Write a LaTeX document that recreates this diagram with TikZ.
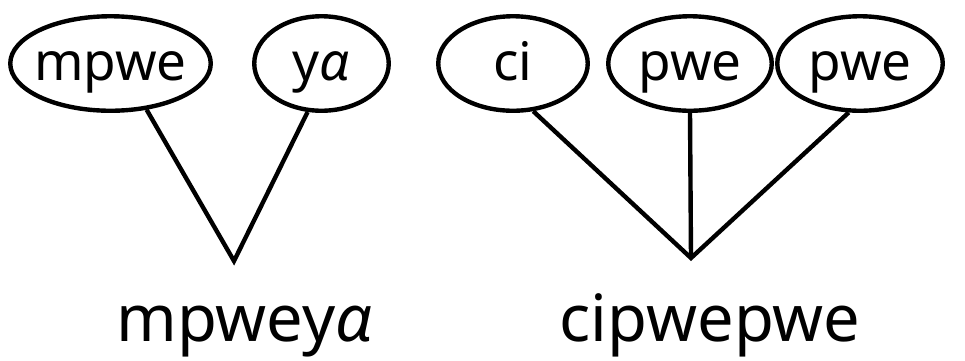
\documentclass[tikz,border=0pt]{standalone}
\usepackage{fontspec}
\setmainfont{Noto Sans}
\usetikzlibrary{shapes.geometric}
\tikzset{
  tok/.style={ellipse, draw, line width=4.4pt, inner sep=0pt,
    font=\fontsize{53}{53}\selectfont, text height=33pt, text depth=0pt,
    minimum height=94.5pt},
  word/.style={anchor=base, inner sep=0pt, font=\fontsize{65}{65}\selectfont},
  edge/.style={line width=4.4pt}
}
\newcommand{\zw}[1]{\makebox[0pt]{#1}}
\begin{document}
\begin{tikzpicture}[x=1pt,y=-1pt]
\useasboundingbox (0,0) rectangle (965,360);
\node[tok, minimum width=200.5pt] (mpwe) at (110.5,63.5) {\zw{mpwe}};
\node[tok, minimum width=134.5pt] (ya) at (321.5,63.5) {\zw{y{\itshape ɑ}}};
\node[tok, minimum width=149.5pt] (ci) at (513,63.5) {\zw{ci}};
\node[tok, minimum width=163.5pt] (pweA) at (690,63.5) {\zw{pwe}};
\node[tok, minimum width=165.5pt] (pweB) at (860,63.5) {\zw{pwe}};
\coordinate (v1) at (234,261);
\coordinate (v2) at (691,258);
\draw[edge] (mpwe.-52) -- (v1) -- (ya.-106);
\draw[edge] (ci.-67.6) -- (v2) -- (pweB.-103);
\draw[edge] (pweA.south) -- (v2);
\node[word] (w1) at (244.5,341) {mpwey{\itshape ɑ}};
\node[word] (w2) at (710,341) {cipwepwe};
\end{tikzpicture}
\end{document}
